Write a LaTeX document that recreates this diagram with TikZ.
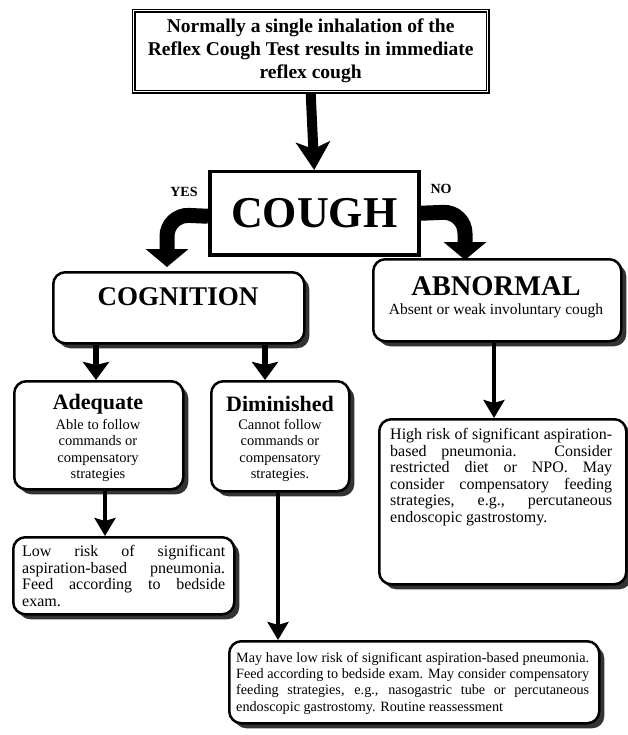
\documentclass[tikz,border=0pt]{standalone}
\usepackage{fontspec}
\setmainfont{Liberation Serif}
\usetikzlibrary{arrows.meta,shadows}
\begin{document}
\begin{tikzpicture}[x=1pt,y=-1pt,
  rbox/.style={draw, line width=2.5pt, rounded corners=12pt, fill=white,
    drop shadow={shadow xshift=5pt,shadow yshift=-5pt,fill=black!80,opacity=1},
    inner sep=0pt, anchor=north west},
  txt/.style={inner sep=0pt, font=\fontsize{16}{16.6}\selectfont, align=justify, anchor=north west},
  sub/.style={inner sep=0pt, font=\fontsize{14.5}{16.5}\selectfont, align=center, anchor=north},
  ttl/.style={inner sep=0pt, font=\fontsize{22}{24}\selectfont\bfseries},
  bigarr/.style={line width=10pt, -{Stealth[length=28pt,width=34pt,inset=7pt]}},
  midarr/.style={line width=6pt, -{Stealth[length=18pt,width=26pt,inset=3pt]}},
  smallarr/.style={line width=4.5pt, -{Stealth[length=18pt,width=21pt,inset=3pt]}},
  bendarr/.style={line width=15pt, rounded corners=22pt, -{Triangle[length=18pt,width=42pt]}},
  lbl/.style={inner sep=0pt, font=\fontsize{14}{14}\selectfont\bfseries}
]
\useasboundingbox (0,0) rectangle (628,735);

% top box
\node[draw, line width=1.3pt, double=white, double distance=1.6pt, anchor=north west,
      minimum width=354pt, minimum height=81pt, inner sep=0pt, align=center,
      font=\fontsize{19.5}{23}\selectfont\bfseries] (top) at (133,10)
  {Normally a single inhalation of the\\Reflex Cough Test results in immediate\\reflex cough};

% cough
\node[draw, line width=3.5pt, anchor=north west, minimum width=209pt, minimum height=83pt,
      inner sep=0pt, font=\fontsize{44}{44}\selectfont\bfseries] (cough) at (208,170) {COUGH};

\node[lbl] (yes) at (184,192) {YES};
\node[lbl] (no) at (441,189) {NO};

% cognition
\node[rbox, minimum width=251pt, minimum height=71pt] (cog) at (52,271) {};
\node[inner sep=0pt, font=\fontsize{27}{27}\selectfont\bfseries] (cogt) at (178,297) {COGNITION};

% abnormal
\node[rbox, minimum width=248pt, minimum height=82pt] (abn) at (372,258) {};
\node[inner sep=0pt, font=\fontsize{28.5}{28.5}\selectfont\bfseries] (abnt) at (496,286) {ABNORMAL};
\node[inner sep=0pt, font=\fontsize{15.5}{16}\selectfont] (abns) at (496,311) {Absent or weak involuntary cough};

% adequate
\node[rbox, minimum width=169pt, minimum height=108pt] (adeq) at (13,380) {};
\node[ttl] (adeqt) at (98,404) {Adequate};
\node[sub] (adeqs) at (98,419) {Able to follow\\commands or\\compensatory\\strategies};

% diminished
\node[rbox, minimum width=138pt, minimum height=110pt] (dim) at (210,380) {};
\node[ttl] (dimt) at (280,404) {Diminished};
\node[sub] (dims) at (280,419) {Cannot follow\\commands or\\compensatory\\strategies.};

% low risk
\node[rbox, minimum width=221pt, minimum height=77pt] (low) at (12,536) {};
\node[txt, text width=203pt] (lowt) at (22,545)
  {Low risk of significant\linebreak aspiration-based pneumonia.\linebreak Feed according to bedside\linebreak exam.};

% high risk
\node[rbox, minimum width=247pt, minimum height=165pt] (high) at (378,418) {};
\node[txt, text width=222pt] (hight) at (390,428)
  {High risk of significant aspiration-\linebreak based pneumonia. Consider\linebreak restricted diet or NPO. May\linebreak consider compensatory feeding\linebreak strategies, e.g., percutaneous\linebreak endoscopic gastrostomy.};

% bottom
\node[rbox, minimum width=370pt, minimum height=82pt] (bot) at (228,640) {};
\node[txt, text width=353pt, font=\fontsize{14.2}{16.3}\selectfont] (bott) at (236,652)
  {May have low risk of significant aspiration-based pneumonia.\linebreak Feed according to bedside exam. May consider compensatory\linebreak feeding strategies, e.g., nasogastric tube or percutaneous\linebreak endoscopic gastrostomy. Routine reassessment};

% x positions
\coordinate (x96) at (96,0);
\coordinate (x265) at (265,0);
\coordinate (x105) at (105,0);
\coordinate (x278) at (278,0);
\coordinate (x494) at (494,0);
\coordinate (lcorner) at (167,214.5);
\coordinate (rcorner) at (465,211.5);
\coordinate (ltip) at (167,267);
\coordinate (rtip) at (465,260);

% connectors
\draw[bigarr] (top.south) -- (cough.north);
\draw[bendarr] ([yshift=-3pt]cough.west) -- (lcorner) -- (ltip);
\draw[bendarr] (cough.east) -- (rcorner) -- (rtip);
\draw[midarr] (x96 |- cog.south) -- (x96 |- adeq.north);
\draw[midarr] (x265 |- cog.south) -- (x265 |- dim.north);
\draw[smallarr] (x105 |- adeq.south) -- (x105 |- low.north);
\draw[smallarr] (x278 |- dim.south) -- (x278 |- bot.north);
\draw[smallarr] (x494 |- abn.south) -- (x494 |- high.north);
\end{tikzpicture}
\end{document}
